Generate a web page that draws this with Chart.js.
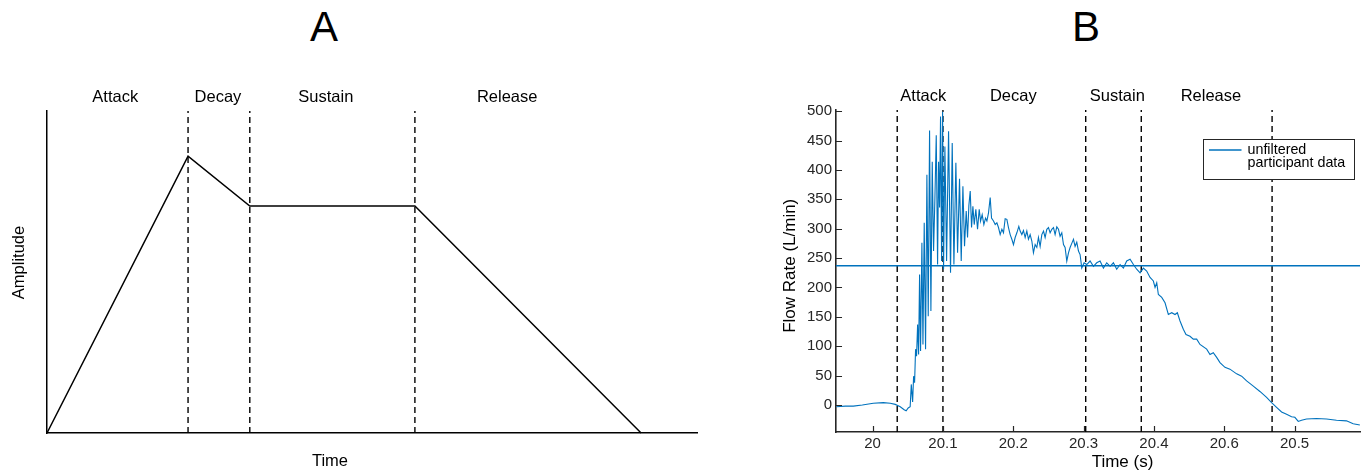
<!DOCTYPE html>
<html>
<head>
<meta charset="utf-8">
<title>ADSR envelope and participant flow</title>
<script src="https://cdn.jsdelivr.net/npm/chart.js@4.4.1/dist/chart.umd.min.js"></script>
<style>
  html, body { margin: 0; padding: 0; background: #fff; }
  body { width: 1363px; height: 472px; position: relative; overflow: hidden;
         font-family: "Liberation Sans", Arial, Helvetica, sans-serif; }
  .panel-title { position: absolute; top: 6px; font-size: 42px; line-height: 42px;
                 color: #000; transform: translateX(-50%); }
  #wrapA { position: absolute; left: 0; top: 0; width: 720px; height: 472px; }
  #wrapB { position: absolute; left: 720px; top: 0; width: 643px; height: 472px; }
</style>
</head>
<body>
<div class="panel-title" style="left:324px">A</div>
<div class="panel-title" style="left:1086px">B</div>
<div id="wrapA"><canvas id="chartA" width="720" height="472"></canvas></div>
<div id="wrapB"><canvas id="chartB" width="643" height="472"></canvas></div>
<script>
// ---------- Panel A: idealised ADSR envelope ----------
const envelopeTime = [0, 2.17, 3.12, 5.66, 9.14];
const envelopeAmplitude = [0, 0.86, 0.705, 0.705, 0];
const phaseBoundsA = [2.17, 3.12, 5.66];
const phaseNames = ['Attack', 'Decay', 'Sustain', 'Release'];
const phaseLabelPosA = [1.05, 2.63, 4.29, 7.08];

// ---------- Panel B: measured flow rate (L/min) over time (s) ----------
const flowTime = [
  19.9484, 19.9612, 19.9726, 19.9854, 20.0010, 20.0152, 20.0251, 20.0322, 20.0393, 20.0449,
  20.0477, 20.0506, 20.0534,
  20.0550, 20.0569, 20.0583, 20.0597, 20.0611, 20.0625, 20.0640, 20.0654, 20.0668, 20.0682,
  20.0701, 20.0716, 20.0734, 20.0753, 20.0772, 20.0791, 20.0810, 20.0829, 20.0848, 20.0867,
  20.0886, 20.0905, 20.0924, 20.0938, 20.0952, 20.0966, 20.0981, 20.0995, 20.1009, 20.1028,
  20.1052, 20.1080, 20.1108, 20.1132, 20.1156, 20.1184, 20.1208, 20.1236, 20.1260, 20.1284,
  20.1307, 20.1331, 20.1350, 20.1369,
  20.1388, 20.1407, 20.1426, 20.1445, 20.1468, 20.1492, 20.1516, 20.1535, 20.1558, 20.1582,
  20.1606, 20.1625, 20.1648, 20.1672, 20.1691,
  20.1719, 20.1743, 20.1767, 20.1790, 20.1814, 20.1838, 20.1861, 20.1885, 20.1909, 20.1932,
  20.1956, 20.1980, 20.2003, 20.2027, 20.2051, 20.2079, 20.2098, 20.2122, 20.2145, 20.2169,
  20.2193, 20.2216, 20.2240, 20.2264, 20.2287, 20.2311, 20.2335, 20.2358, 20.2382, 20.2406,
  20.2430, 20.2453, 20.2477, 20.2501, 20.2524, 20.2548, 20.2572, 20.2595, 20.2619, 20.2643,
  20.2666, 20.2690, 20.2714, 20.2737, 20.2761, 20.2785, 20.2808, 20.2832, 20.2856, 20.2879,
  20.2903, 20.2927, 20.2950,
  20.2974, 20.3007, 20.3045, 20.3092, 20.3140, 20.3187, 20.3234, 20.3282, 20.3329, 20.3377,
  20.3424, 20.3471, 20.3519, 20.3566, 20.3613, 20.3661, 20.3708, 20.3755, 20.3803, 20.3850,
  20.3897,
  20.3945, 20.3992, 20.4016, 20.4040, 20.4063, 20.4111, 20.4158, 20.4205, 20.4253, 20.4300,
  20.4333, 20.4371, 20.4418, 20.4456, 20.4513, 20.4560, 20.4608, 20.4655, 20.4750, 20.4797,
  20.4844, 20.4892, 20.4939, 20.5010, 20.5081, 20.5176, 20.5247, 20.5318, 20.5413, 20.5507,
  20.5602, 20.5673, 20.5744, 20.5815, 20.5886, 20.5957, 20.6004, 20.6052, 20.6099, 20.6170,
  20.6312, 20.6454, 20.6596, 20.6738, 20.6833, 20.6928
];
const flowRate = [
  -3, -2, -2, 0, 3, 4, 3, 1, -3, -8,
  -10, -5, -3,
  35, 5, 49, 38, 95, 83, 137, 86, 222, 92,
  276, 103, 310, 95, 392, 151, 467, 160, 414, 262,
  352, 459, 239, 414, 336, 491, 245, 499, 231, 440,
  245, 466, 225, 446, 239, 412, 259, 385, 245, 372,
  270, 330, 285, 340,
  364, 302, 338, 307, 333, 299, 333, 313, 324, 307,
  318, 313, 327, 353, 318,
  313, 307, 310, 302, 290, 299, 293, 317, 316, 302,
  290, 282, 273, 285, 293, 304, 296, 290, 297, 285,
  296, 282, 290, 279, 259, 273, 268, 285, 270, 290,
  296, 285, 299, 302, 293, 299, 302, 290, 303, 299,
  287, 293, 273, 268, 245, 259, 268, 275, 282, 270,
  277, 262, 256,
  233, 242, 239, 245, 236, 242, 245, 233, 242, 236,
  242, 231, 239, 233, 245, 248, 239, 231, 225, 233,
  228,
  217, 211, 200, 208, 188, 183, 174, 154, 157, 154,
  157, 143, 129, 120, 117, 112, 112, 103, 95, 86,
  89, 81, 72, 64, 61, 53, 49, 41, 32, 23,
  13, 4, -4, -12, -16, -20, -21, -28, -26, -24,
  -23, -24, -26, -27, -32, -34
];
const sustainLevel = 237;
const timeAxisMin = 19.948;
const timeAxisMax = 20.693;
const flowAxisMin = -46;
const flowAxisMax = 502;
const phaseBoundsB = [20.035, 20.1, 20.303, 20.382, 20.568];
const phaseLabelPosB = [20.072, 20.2, 20.348, 20.481];
const xTickValuesB = [20, 20.1, 20.2, 20.3, 20.4, 20.5, 20.6];
const xTickLabelsB = ['20', '20.1', '20.2', '20.3', '20.4', '20.6', '20.5'];
const yTickValuesB = [0, 50, 100, 150, 200, 250, 300, 350, 400, 450, 500];
const legendLinesB = ['unfiltered', 'participant data'];

const FONT = '"Liberation Sans", Arial, Helvetica, sans-serif';
const BLUE = '#0072BD';
const AXIS = '#262626';
Chart.defaults.font.family = FONT;

// Phase names written above the plotting area
const phaseLabels = {
  id: 'phaseLabels',
  afterDraw(chart, args, opts) {
    if (!opts.names) return;
    const { ctx } = chart;
    const xs = chart.scales.x;
    ctx.save();
    ctx.fillStyle = '#000';
    ctx.font = opts.size + 'px ' + FONT;
    ctx.textAlign = 'center';
    ctx.textBaseline = 'alphabetic';
    opts.names.forEach((n, i) => ctx.fillText(n, xs.getPixelForValue(opts.positions[i]), opts.baseline));
    ctx.restore();
  }
};

// Axis captions placed freely on the canvas
const axisCaptions = {
  id: 'axisCaptions',
  afterDraw(chart, args, opts) {
    const { ctx } = chart;
    ctx.save();
    ctx.fillStyle = '#000';
    ctx.font = opts.size + 'px ' + FONT;
    ctx.textAlign = 'center';
    ctx.textBaseline = 'alphabetic';
    if (opts.x) ctx.fillText(opts.x.text, opts.x.cx, opts.x.baseline);
    if (opts.y) {
      ctx.translate(opts.y.baseline, opts.y.cy);
      ctx.rotate(-Math.PI / 2);
      ctx.fillText(opts.y.text, 0, 0);
    }
    ctx.restore();
  }
};

// Short tick marks pointing into the plotting area
const inwardTicks = {
  id: 'inwardTicks',
  afterDraw(chart, args, opts) {
    if (!opts.length) return;
    const { ctx, chartArea } = chart;
    const xs = chart.scales.x, ys = chart.scales.y;
    ctx.save();
    ctx.strokeStyle = AXIS;
    ctx.lineWidth = 1.2;
    ctx.beginPath();
    xs.ticks.forEach(t => {
      const p = Math.round(xs.getPixelForValue(t.value)) + 0.5;
      ctx.moveTo(p, chartArea.bottom);
      ctx.lineTo(p, chartArea.bottom - opts.length);
    });
    ys.ticks.forEach(t => {
      const p = Math.round(ys.getPixelForValue(t.value)) + 0.5;
      ctx.moveTo(chartArea.left, p);
      ctx.lineTo(chartArea.left + opts.length, p);
    });
    ctx.stroke();
    ctx.restore();
  }
};

// Boxed legend inside the top-right of the plotting area
const legendBox = {
  id: 'legendBox',
  afterDraw(chart, args, opts) {
    if (!opts.lines) return;
    const { ctx, chartArea } = chart;
    const x = Math.round(chartArea.right - opts.offsetRight) + 0.5;
    const y = Math.round(chartArea.top + opts.offsetTop) + 0.5;
    ctx.save();
    ctx.fillStyle = '#fff';
    ctx.fillRect(x, y, opts.width, opts.height);
    ctx.strokeStyle = AXIS;
    ctx.lineWidth = 1;
    ctx.strokeRect(x, y, opts.width, opts.height);
    ctx.strokeStyle = opts.color;
    ctx.lineWidth = 1.3;
    ctx.beginPath();
    ctx.moveTo(x + 5.5, y + 10.5);
    ctx.lineTo(x + 38, y + 10.5);
    ctx.stroke();
    ctx.fillStyle = '#000';
    ctx.font = opts.size + 'px ' + FONT;
    ctx.textAlign = 'left';
    ctx.textBaseline = 'middle';
    opts.lines.forEach((line, i) => ctx.fillText(line, x + 44, y + 10.5 + i * 12.7));
    ctx.restore();
  }
};

const plugins = [phaseLabels, axisCaptions, inwardTicks, legendBox];

// ---------- Chart A ----------
const envelopePoints = envelopeTime.map((t, i) => ({ x: t, y: envelopeAmplitude[i] }));
const dashedA = phaseBoundsA.map(t => ({
  data: [{ x: t, y: 0 }, { x: t, y: 1 }],
  borderColor: '#000', borderWidth: 1.4, borderDash: [6, 4], clip: false
}));

new Chart(document.getElementById('chartA'), {
  type: 'line',
  data: {
    datasets: [
      ...dashedA,
      { data: envelopePoints, borderColor: '#000', borderWidth: 1.5, clip: false }
    ]
  },
  plugins,
  options: {
    responsive: false, animation: false, devicePixelRatio: 1,
    layout: { padding: { left: 47, right: 23, top: 111, bottom: 39 } },
    elements: { point: { radius: 0 }, line: { tension: 0 } },
    plugins: {
      legend: { display: false }, tooltip: { enabled: false },
      phaseLabels: { names: phaseNames, positions: phaseLabelPosA, baseline: 101.5, size: 16.5 },
      axisCaptions: {
        size: 16.5,
        x: { text: 'Time', cx: 330, baseline: 466 },
        y: { text: 'Amplitude', baseline: 23.5, cy: 262.5 }
      }
    },
    scales: {
      x: { type: 'linear', min: 0, max: 10,
           ticks: { display: false }, grid: { display: false, drawTicks: false },
           border: { display: true, color: '#000', width: 1.5 } },
      y: { type: 'linear', min: 0, max: 1,
           ticks: { display: false }, grid: { display: false, drawTicks: false },
           border: { display: true, color: '#000', width: 1.5 } }
    }
  }
});

// ---------- Chart B ----------
const flowPoints = flowTime.map((t, i) => ({ x: t, y: flowRate[i] }));
const dashedB = phaseBoundsB.map(t => ({
  data: [{ x: t, y: flowAxisMin }, { x: t, y: flowAxisMax }],
  borderColor: '#000', borderWidth: 1.4, borderDash: [6, 4]
}));

new Chart(document.getElementById('chartB'), {
  type: 'line',
  data: {
    datasets: [
      { label: legendLinesB.join(' '), data: flowPoints, borderColor: BLUE, borderWidth: 1.1 },
      { data: [{ x: timeAxisMin, y: sustainLevel }, { x: timeAxisMax, y: sustainLevel }],
        borderColor: BLUE, borderWidth: 1.5 },
      ...dashedB
    ]
  },
  plugins,
  options: {
    responsive: false, animation: false, devicePixelRatio: 1,
    layout: { padding: { left: 83, right: 3, top: 110, bottom: 16 } },
    elements: { point: { radius: 0 }, line: { tension: 0 } },
    plugins: {
      legend: { display: false }, tooltip: { enabled: false },
      phaseLabels: { names: phaseNames, positions: phaseLabelPosB, baseline: 101, size: 16.5 },
      axisCaptions: {
        size: 17,
        x: { text: 'Time (s)', cx: 402.5, baseline: 466.5 },
        y: { text: 'Flow Rate (L/min)', baseline: 75, cy: 265.8 }
      },
      inwardTicks: { length: 6 },
      legendBox: { lines: legendLinesB, color: BLUE, size: 14.3,
                   offsetRight: 156.7, offsetTop: 29, width: 151, height: 40 }
    },
    scales: {
      x: { type: 'linear', min: timeAxisMin, max: timeAxisMax,
           afterBuildTicks: s => { s.ticks = xTickValuesB.map(v => ({ value: v })); },
           ticks: { autoSkip: false, maxRotation: 0, padding: 3, color: AXIS,
                    font: { size: 15 },
                    callback: v => xTickLabelsB[xTickValuesB.indexOf(v)] },
           grid: { display: false, drawTicks: false },
           border: { display: true, color: AXIS, width: 1.6 } },
      y: { type: 'linear', min: flowAxisMin, max: flowAxisMax,
           afterBuildTicks: s => { s.ticks = yTickValuesB.map(v => ({ value: v })); },
           ticks: { autoSkip: false, padding: 4, color: AXIS, font: { size: 15 },
                    callback: v => String(v) },
           grid: { display: false, drawTicks: false },
           border: { display: true, color: AXIS, width: 1.6 } }
    }
  }
});
</script>
</body>
</html>
